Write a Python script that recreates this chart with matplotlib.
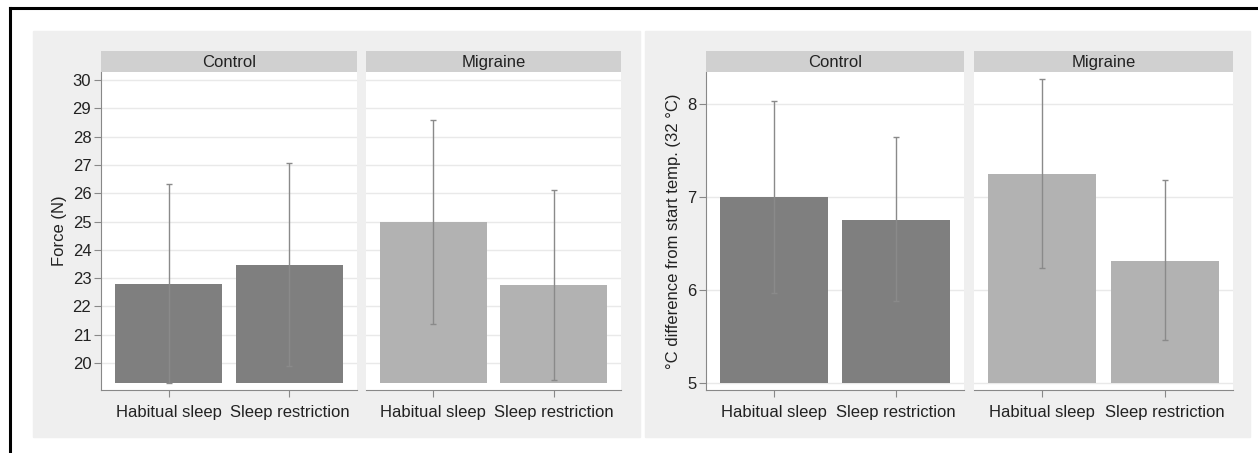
import matplotlib.pyplot as plt
from matplotlib.patches import Rectangle
from matplotlib.lines import Line2D

plt.rcParams['font.family'] = ['Liberation Sans', 'DejaVu Sans']

conditions = ['Habitual sleep', 'Sleep restriction']
groups = ['Control', 'Migraine']

# force (N): means and error bar limits
force_mean = {'Control': [22.80, 23.45], 'Migraine': [24.99, 22.75]}
force_lo = {'Control': [19.29, 19.88], 'Migraine': [21.39, 19.40]}
force_hi = {'Control': [26.32, 27.05], 'Migraine': [28.58, 26.12]}

# temperature difference (°C)
temp_mean = {'Control': [7.00, 6.76], 'Migraine': [7.25, 6.32]}
temp_lo = {'Control': [5.975, 5.88], 'Migraine': [6.24, 5.47]}
temp_hi = {'Control': [8.035, 7.65], 'Migraine': [8.27, 7.19]}

bar_colors = {'Control': '#7f7f7f', 'Migraine': '#b2b2b2'}

W, H = 1258, 453
fig = plt.figure(figsize=(W / 100, H / 100), dpi=100)


def box(x0, y0, x1, y1):
    # pixel box -> figure fraction [left, bottom, width, height]
    return [x0 / W, 1 - y1 / H, (x1 - x0) / W, (y1 - y0) / H]


# gray panel backgrounds
for x0, x1 in [(33, 640), (645, 1250)]:
    fig.patches.append(Rectangle((x0 / W, 1 - 437 / H), (x1 - x0) / W, (437 - 31) / H,
                                 transform=fig.transFigure, color='#efefef', zorder=-5))

# outer frame (top and left visible)
fig.lines.append(Line2D([10 / W, 10 / W], [0, 1 - 8 / H], transform=fig.transFigure,
                        color='black', lw=2.2, zorder=-5))
fig.lines.append(Line2D([10 / W, 1], [1 - 8 / H, 1 - 8 / H], transform=fig.transFigure,
                        color='black', lw=2.2, zorder=-5))


def facet(xpx, mean, lo, hi, color, ylim, ticks, base, first, ylabel=None):
    ax = fig.add_axes(box(xpx[0], 72, xpx[1], 390))
    ax.set_facecolor('white')
    x = [0, 1]
    ax.bar(x, [m - base for m in mean], bottom=base, width=0.885, color=color, zorder=2)
    yerr = [[m - l for m, l in zip(mean, lo)], [h - m for m, h in zip(mean, hi)]]
    ax.errorbar(x, mean, yerr=yerr, fmt='none', ecolor='#8a8a8a', elinewidth=1,
                capsize=2.5, capthick=1, zorder=3)
    ax.set_xlim(-0.56, 1.56)
    ax.set_ylim(*ylim)
    ax.set_yticks(ticks)
    ax.grid(axis='y', color='#e9e9e9', lw=1, zorder=0)
    ax.set_axisbelow(True)
    ax.set_xticks(x)
    ax.set_xticklabels(conditions, fontsize=12, color='#222222')
    ax.tick_params(axis='x', length=5, color='#888888', pad=6)
    for s in ['top', 'right']:
        ax.spines[s].set_visible(False)
    ax.spines['bottom'].set_color('#888888')
    if first:
        ax.spines['left'].set_color('#888888')
        ax.tick_params(axis='y', length=5, color='#888888', labelsize=12,
                       labelcolor='#222222', pad=2)
        if ylabel:
            ax.set_ylabel(ylabel, fontsize=12, color='#222222')
    else:
        ax.spines['left'].set_visible(False)
        ax.tick_params(axis='y', length=0, labelleft=False)
    return ax


def strip(xpx, title):
    sax = fig.add_axes(box(xpx[0], 51, xpx[1], 72))
    sax.set_facecolor('#d0d0d0')
    sax.set_xticks([])
    sax.set_yticks([])
    for s in sax.spines.values():
        s.set_visible(False)
    sax.text(0.5, 0.45, title, ha='center', va='center', fontsize=12, color='#222222',
             transform=sax.transAxes)


force_pos = {'Control': (101, 357), 'Migraine': (366, 621)}
temp_pos = {'Control': (706, 964), 'Migraine': (974, 1233)}

for i, g in enumerate(groups):
    facet(force_pos[g], force_mean[g], force_lo[g], force_hi[g], bar_colors[g],
          (19.05, 30.28), range(20, 31), 19.3, i == 0, 'Force (N)')
    strip(force_pos[g], g)
    facet(temp_pos[g], temp_mean[g], temp_lo[g], temp_hi[g], bar_colors[g],
          (4.928, 8.347), [5, 6, 7, 8], 5.0, i == 0,
          '°C difference from start temp. (32 °C)')
    strip(temp_pos[g], g)

fig.savefig('out.png', dpi=100)
